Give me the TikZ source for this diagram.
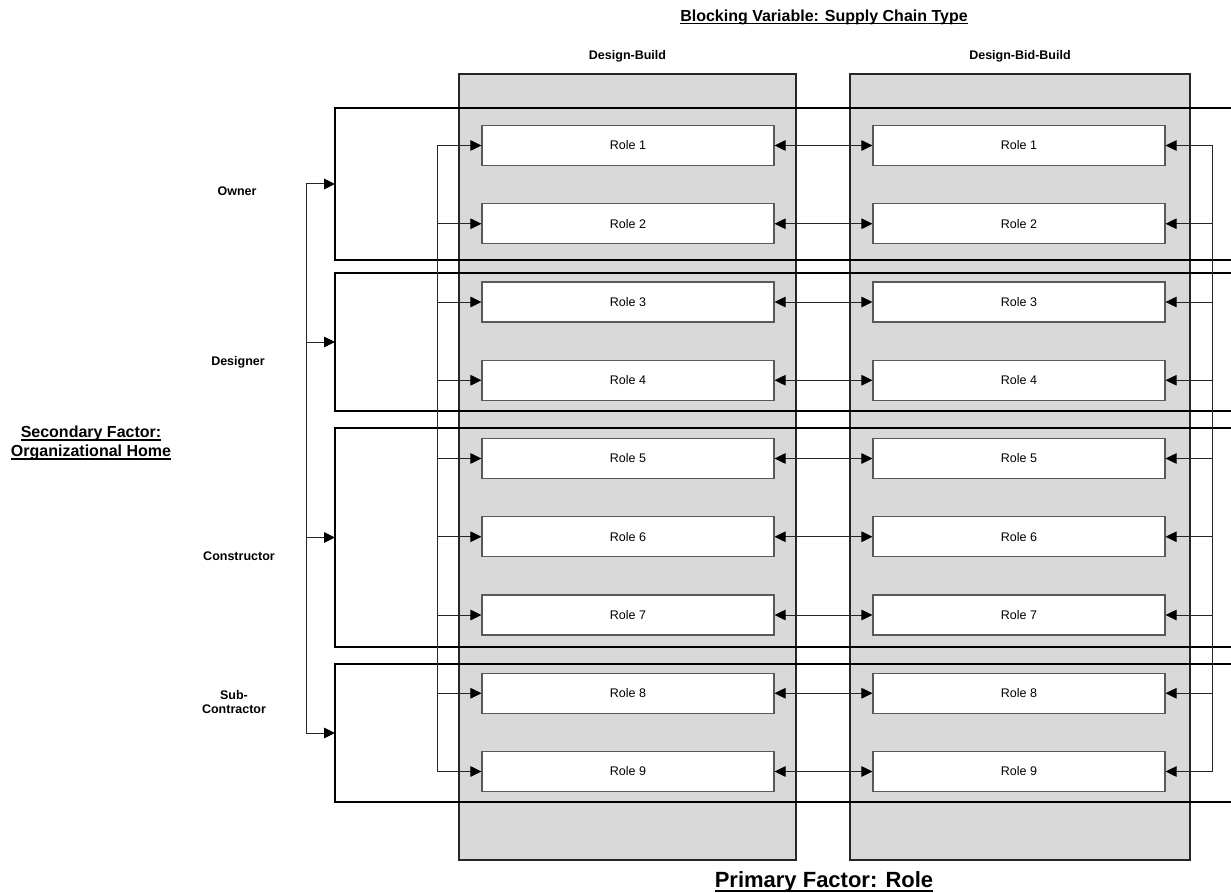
\documentclass[tikz,border=0pt]{standalone}
\usepackage{fontspec}
\setmainfont{Liberation Sans}
\usetikzlibrary{arrows.meta}
\definecolor{colgray}{HTML}{D9D9D9}
\newcommand\myul[3]{\setbox0\hbox{#3}\rlap{\rule[#1]{\wd0}{#2}}\box0}
\begin{document}
\begin{tikzpicture}[x=1pt,y=-1pt,line join=miter,
  colbox/.style={draw=black!85,line width=1.6pt,fill=colgray,inner sep=0pt},
  rolebox/.style={draw=black!65,line width=1.1pt,fill=white,minimum width=292pt,minimum height=40pt,inner sep=0pt,font=\fontsize{12.5}{15}\selectfont},
  grpline/.style={draw=black,line width=1.8pt},
  conn/.style={draw=black!85,line width=1pt},
  tip/.tip={Triangle[length=11pt,width=10.5pt,color=black]},
  lbl/.style={font=\bfseries\fontsize{12.5}{14}\selectfont,anchor=base,inner sep=0pt}]
\useasboundingbox (0,0) rectangle (1231,893);
% columns
\node[colbox,minimum width=337pt,minimum height=786pt] (colDB) at (627.5,467) {};
\node[colbox,minimum width=340pt,minimum height=786pt] (colDBB) at (1020,467) {};
% group boxes (open to the right)
\draw[grpline] (1236,108) -- (335,108) -- (335,260) -- (1236,260);
\draw[grpline] (1236,273) -- (335,273) -- (335,411) -- (1236,411);
\draw[grpline] (1236,428) -- (335,428) -- (335,647) -- (1236,647);
\draw[grpline] (1236,664) -- (335,664) -- (335,802) -- (1236,802);
% outer bracket
\coordinate (g1) at (335,184);   \coordinate (b1) at (306,184);
\coordinate (g2) at (335,342);   \coordinate (b2) at (306,342);
\coordinate (g3) at (335,537.5); \coordinate (b3) at (306,537.5);
\coordinate (g4) at (335,733);   \coordinate (b4) at (306,733);
\draw[conn] (b1) -- (b4);
\foreach \i in {1,...,4} {\draw[conn,-tip] (b\i) -- (g\i);}
% roles
\foreach \i in {1,...,9} {
  \pgfmathsetmacro\yy{145.5+(\i-1)*78.25}
  \node[rolebox] (L\i) at (628,\yy) {Role \i};
  \node[rolebox] (R\i) at (1019,\yy) {Role \i};
  \coordinate (li\i) at (437,\yy);
  \coordinate (ri\i) at (1212,\yy);
}
\draw[conn] (li1) -- (li9);
\draw[conn] (ri1) -- (ri9);
\foreach \i in {1,...,9} {
  \draw[conn,-tip] (li\i) -- (L\i.west);
  \draw[conn,tip-tip] (L\i.east) -- (R\i.west);
  \draw[conn,-tip] (ri\i) -- (R\i.east);
}
% labels
\node[lbl] (owner) at (237,195.5) {Owner};
\node[lbl] (designer) at (238,365.5) {Designer};
\node[lbl] (constructor) at (239,560.5) {Constructor};
\node[lbl] (sub1) at (234,699) {Sub-};
\node[lbl] (sub2) at (234,713) {Contractor};
\node[lbl] (hdb) at (627.5,59.5) {Design-Build};
\node[lbl] (hdbb) at (1020,59.5) {Design-Bid-Build};
\node[font=\bfseries\fontsize{16}{19}\selectfont,anchor=base,inner sep=0pt] (title) at (824,21.5) {\myul{-3pt}{1.4pt}{Blocking Variable: Supply Chain Type}};
\node[font=\bfseries\fontsize{16}{19}\selectfont,anchor=base,inner sep=0pt] (sec1) at (91,437) {\myul{-3.7pt}{1.4pt}{Secondary Factor:}};
\node[font=\bfseries\fontsize{16}{19}\selectfont,anchor=base,inner sep=0pt] (sec2) at (91,456) {\myul{-3.7pt}{1.4pt}{Organizational Home}};
\node[font=\bfseries\fontsize{22}{26}\selectfont,anchor=base,inner sep=0pt] (prim) at (824,887) {\myul{-4.7pt}{2pt}{Primary Factor: Role}};
\end{tikzpicture}
\end{document}
